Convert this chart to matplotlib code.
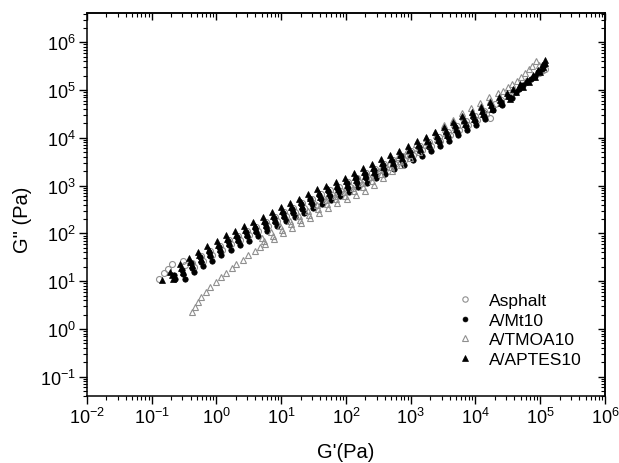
import numpy as np
import matplotlib
matplotlib.use("Agg")
import matplotlib.pyplot as plt
from matplotlib.ticker import LogLocator, NullFormatter

plt.rcParams['font.family'] = ['Liberation Sans', 'DejaVu Sans']
plt.rcParams['mathtext.fontset'] = 'custom'
plt.rcParams['mathtext.rm'] = 'Liberation Sans'

# ---- data: (log10 G', log10 G'') ----
asphalt_log = [
    (-0.89, 1.05), (-0.80, 1.17), (-0.75, 1.26), (-0.69, 1.35),
    (-0.52, 1.42), (-0.48, 1.34),
    (-0.37, 1.39), (-0.34, 1.30), (-0.23, 1.52), (-0.20, 1.43),
    (-0.09, 1.63), (-0.06, 1.54), (0.06, 1.74), (0.09, 1.65),
    (0.20, 1.86), (0.23, 1.77), (0.34, 1.95), (0.37, 1.86),
    (0.48, 2.05), (0.51, 1.96), (0.62, 2.14), (0.65, 2.05),
    (0.77, 2.24), (0.80, 2.15), (0.91, 2.35), (0.94, 2.26),
    (1.05, 2.45), (1.08, 2.36), (1.19, 2.54), (1.22, 2.45),
    (1.33, 2.63), (1.36, 2.54), (1.47, 2.73), (1.50, 2.64),
    (1.61, 2.82), (1.64, 2.73), (1.75, 2.90), (1.78, 2.81),
    (1.89, 2.98), (1.92, 2.89), (2.03, 3.07), (2.06, 2.98),
    (2.17, 3.17), (2.20, 3.08), (2.31, 3.26), (2.34, 3.17),
    (2.45, 3.35), (2.48, 3.26), (2.59, 3.45), (2.62, 3.36),
    (2.73, 3.54), (2.76, 3.45), (2.87, 3.63), (2.90, 3.54),
    (3.01, 3.73), (3.04, 3.64), (3.15, 3.83), (3.18, 3.74),
    (3.29, 3.92), (3.32, 3.83), (3.43, 4.02), (3.46, 3.93),
    (3.57, 4.13), (3.60, 4.05), (3.71, 4.24), (3.74, 4.16),
    (3.85, 4.35), (3.88, 4.27), (3.99, 4.45), (4.02, 4.38),
    (4.13, 4.56), (4.16, 4.49), (4.22, 4.41),
    (4.30, 4.71), (4.40, 4.80), (4.50, 4.90), (4.60, 4.99),
    (4.70, 5.08), (4.80, 5.18), (4.90, 5.28), (4.98, 5.36),
    (5.04, 5.42), (5.07, 5.45),
]

mt10_log = [
    (-0.66, 1.12), (-0.64, 1.04),
    (-0.53, 1.23), (-0.51, 1.14), (-0.49, 1.05),
    (-0.39, 1.37), (-0.37, 1.28), (-0.35, 1.19),
    (-0.25, 1.50), (-0.23, 1.41), (-0.21, 1.32),
    (-0.11, 1.61), (-0.09, 1.52), (-0.07, 1.43),
    (0.04, 1.72), (0.06, 1.63), (0.08, 1.54),
    (0.18, 1.84), (0.20, 1.75), (0.22, 1.66),
    (0.32, 1.93), (0.34, 1.84), (0.36, 1.75),
    (0.46, 2.03), (0.48, 1.94), (0.50, 1.85),
    (0.60, 2.12), (0.62, 2.03), (0.64, 1.94),
    (0.75, 2.22), (0.77, 2.13), (0.79, 2.04),
    (0.89, 2.33), (0.91, 2.24), (0.93, 2.15),
    (1.03, 2.43), (1.05, 2.34), (1.07, 2.25),
    (1.17, 2.52), (1.19, 2.43), (1.21, 2.34),
    (1.31, 2.61), (1.33, 2.52), (1.35, 2.43),
    (1.45, 2.71), (1.47, 2.62), (1.49, 2.53),
    (1.59, 2.80), (1.61, 2.71), (1.63, 2.62),
    (1.73, 2.88), (1.75, 2.79), (1.77, 2.70),
    (1.87, 2.96), (1.89, 2.87), (1.91, 2.78),
    (2.01, 3.05), (2.03, 2.96), (2.05, 2.87),
    (2.15, 3.15), (2.17, 3.06), (2.19, 2.97),
    (2.29, 3.24), (2.31, 3.15), (2.33, 3.06),
    (2.43, 3.33), (2.45, 3.24), (2.47, 3.15),
    (2.57, 3.43), (2.59, 3.34), (2.61, 3.25),
    (2.71, 3.52), (2.73, 3.43), (2.75, 3.34),
    (2.85, 3.61), (2.87, 3.52), (2.89, 3.43),
    (2.99, 3.71), (3.01, 3.62), (3.03, 3.53),
    (3.13, 3.81), (3.15, 3.72), (3.17, 3.63),
    (3.27, 3.90), (3.29, 3.81), (3.31, 3.72),
    (3.41, 4.00), (3.43, 3.91), (3.45, 3.82),
    (3.55, 4.11), (3.57, 4.02), (3.59, 3.93),
    (3.69, 4.22), (3.71, 4.13), (3.73, 4.05),
    (3.83, 4.33), (3.85, 4.24), (3.87, 4.16),
    (3.97, 4.43), (3.99, 4.35), (4.01, 4.27),
    (4.11, 4.54), (4.13, 4.46), (4.15, 4.39),
    (4.25, 4.65), (4.27, 4.58), (4.39, 4.76), (4.41, 4.69),
    (4.52, 4.86), (4.56, 4.84), (4.63, 4.97), (4.68, 5.03),
    (4.74, 5.10), (4.80, 5.16), (4.86, 5.23), (4.92, 5.30),
    (4.97, 5.37), (5.02, 5.45), (5.06, 5.52),
]

tmoa_log = [
    (-0.38, 0.35), (-0.33, 0.46), (-0.28, 0.56), (-0.23, 0.67),
    (-0.16, 0.77), (-0.09, 0.87), (-0.01, 0.98), (0.07, 1.08),
    (0.15, 1.17), (0.24, 1.27), (0.31, 1.36), (0.41, 1.45),
    (0.49, 1.55), (0.60, 1.64), (0.67, 1.71),
    (0.71, 1.91), (0.73, 1.84), (0.75, 1.77),
    (0.85, 2.02), (0.87, 1.95), (0.89, 1.88),
    (0.99, 2.15), (1.01, 2.08), (1.03, 2.01),
    (1.13, 2.26), (1.15, 2.19), (1.17, 2.12),
    (1.27, 2.37), (1.29, 2.29), (1.31, 2.22),
    (1.41, 2.47), (1.43, 2.39), (1.45, 2.32),
    (1.55, 2.59), (1.57, 2.51), (1.59, 2.43),
    (1.69, 2.70), (1.71, 2.62), (1.73, 2.54),
    (1.83, 2.79), (1.85, 2.71), (1.87, 2.63),
    (1.97, 2.87), (1.99, 2.79), (2.01, 2.71),
    (2.11, 2.96), (2.13, 2.88), (2.15, 2.80),
    (2.25, 3.05), (2.27, 2.97), (2.29, 2.89),
    (2.39, 3.18), (2.41, 3.10), (2.43, 3.02),
    (2.53, 3.32), (2.55, 3.24), (2.57, 3.16),
    (2.67, 3.46), (2.69, 3.38), (2.71, 3.30),
    (2.81, 3.60), (2.83, 3.52), (2.85, 3.44),
    (2.95, 3.73), (2.97, 3.65), (2.99, 3.57),
    (3.09, 3.87), (3.11, 3.79), (3.13, 3.71),
    (3.23, 4.00), (3.25, 3.92), (3.27, 3.84),
    (3.37, 4.13), (3.39, 4.05), (3.41, 3.97),
    (3.51, 4.26), (3.53, 4.18), (3.55, 4.10),
    (3.65, 4.38), (3.67, 4.30), (3.69, 4.22),
    (3.79, 4.51), (3.81, 4.43), (3.83, 4.35),
    (3.93, 4.63), (3.95, 4.55), (3.97, 4.47),
    (4.07, 4.74), (4.09, 4.66), (4.11, 4.58),
    (4.21, 4.86), (4.23, 4.78), (4.25, 4.70),
    (4.35, 4.93), (4.43, 4.99), (4.50, 5.06), (4.57, 5.12),
    (4.64, 5.19), (4.71, 5.27), (4.77, 5.35), (4.83, 5.45),
    (4.87, 5.51), (4.94, 5.60), (4.98, 5.52),
]

aptes_log = [
    (-0.84, 1.03),
    (-0.71, 1.19), (-0.69, 1.12), (-0.67, 1.05),
    (-0.56, 1.35), (-0.54, 1.27), (-0.52, 1.20),
    (-0.42, 1.49), (-0.40, 1.41), (-0.38, 1.33),
    (-0.28, 1.62), (-0.26, 1.54), (-0.24, 1.46),
    (-0.14, 1.73), (-0.12, 1.65), (-0.10, 1.57),
    (0.01, 1.84), (0.03, 1.76), (0.05, 1.68),
    (0.15, 1.96), (0.17, 1.88), (0.19, 1.80),
    (0.29, 2.05), (0.31, 1.97), (0.33, 1.89),
    (0.43, 2.15), (0.45, 2.07), (0.47, 1.99),
    (0.57, 2.24), (0.59, 2.16), (0.61, 2.08),
    (0.72, 2.34), (0.74, 2.26), (0.76, 2.18),
    (0.86, 2.45), (0.88, 2.37), (0.90, 2.29),
    (1.00, 2.55), (1.02, 2.47), (1.04, 2.39),
    (1.14, 2.64), (1.16, 2.56), (1.18, 2.48),
    (1.28, 2.73), (1.30, 2.65), (1.32, 2.57),
    (1.42, 2.83), (1.44, 2.75), (1.46, 2.67),
    (1.56, 2.92), (1.58, 2.84), (1.60, 2.76),
    (1.70, 3.00), (1.72, 2.92), (1.74, 2.84),
    (1.84, 3.08), (1.86, 3.00), (1.88, 2.92),
    (1.98, 3.17), (2.00, 3.09), (2.02, 3.01),
    (2.12, 3.27), (2.14, 3.19), (2.16, 3.11),
    (2.26, 3.36), (2.28, 3.28), (2.30, 3.20),
    (2.40, 3.45), (2.42, 3.37), (2.44, 3.29),
    (2.54, 3.55), (2.56, 3.47), (2.58, 3.39),
    (2.68, 3.64), (2.70, 3.56), (2.72, 3.48),
    (2.82, 3.73), (2.84, 3.65), (2.86, 3.57),
    (2.96, 3.83), (2.98, 3.75), (3.00, 3.67),
    (3.10, 3.93), (3.12, 3.85), (3.14, 3.77),
    (3.24, 4.02), (3.26, 3.94), (3.28, 3.86),
    (3.38, 4.12), (3.40, 4.04), (3.42, 3.96),
    (3.52, 4.23), (3.54, 4.15), (3.56, 4.07),
    (3.66, 4.34), (3.68, 4.26), (3.70, 4.18),
    (3.80, 4.45), (3.82, 4.37), (3.84, 4.29),
    (3.94, 4.55), (3.96, 4.47), (3.98, 4.39),
    (4.08, 4.65), (4.10, 4.57), (4.12, 4.50),
    (4.22, 4.76), (4.24, 4.68), (4.26, 4.61),
    (4.36, 4.86), (4.38, 4.79), (4.40, 4.72),
    (4.48, 4.94), (4.50, 4.87), (4.53, 4.82),
    (4.58, 5.02), (4.62, 4.97), (4.69, 5.12), (4.73, 5.07),
    (4.79, 5.22), (4.83, 5.17), (4.89, 5.32), (4.92, 5.27),
    (4.97, 5.43), (5.00, 5.38), (5.02, 5.52), (5.05, 5.48),
    (5.07, 5.62), (5.08, 5.56),
]

series_names = ['Asphalt', 'A/Mt10', 'A/TMOA10', 'A/APTES10']
x_ticks = [1e-2, 1e-1, 1e0, 1e1, 1e2, 1e3, 1e4, 1e5, 1e6]
y_ticks = [1e-1, 1e0, 1e1, 1e2, 1e3, 1e4, 1e5, 1e6]


def unlog(pairs):
    a = np.array(pairs)
    return 10 ** a[:, 0], 10 ** a[:, 1]


fig = plt.figure(figsize=(6.19, 4.64), dpi=100)
ax = fig.add_axes([0.1401, 0.145, 0.8373, 0.8242])
ax.set_xscale('log')
ax.set_yscale('log')

gray = '#8f8f8f'
styles = [
    dict(marker='o', ms=4.3, mfc='none', mec=gray, mew=0.8),
    dict(marker='o', ms=3.9, mfc='black', mec='black', mew=0.5),
    dict(marker='^', ms=4.8, mfc='none', mec=gray, mew=0.8),
    dict(marker='^', ms=5.0, mfc='black', mec='black', mew=0.5),
]
for data, name, st in zip([asphalt_log, mt10_log, tmoa_log, aptes_log], series_names, styles):
    gx, gy = unlog(data)
    ax.plot(gx, gy, ls='none', label=name, **st)

ax.set_xlim(1e-2, 1e6)
ax.set_ylim(0.04, 4.05e6)
ax.set_xticks(x_ticks)
ax.set_yticks(y_ticks)
ax.xaxis.set_minor_locator(LogLocator(base=10, subs=np.arange(2, 10), numticks=20))
ax.yaxis.set_minor_locator(LogLocator(base=10, subs=np.arange(2, 10), numticks=20))
ax.xaxis.set_minor_formatter(NullFormatter())
ax.yaxis.set_minor_formatter(NullFormatter())
ax.tick_params(which='major', direction='out', length=5.5, width=1.0, labelsize=13, pad=2.5)
ax.tick_params(which='minor', direction='out', length=3.2, width=0.8)
for sp in ax.spines.values():
    sp.set_linewidth(1.1)

# mirrored ticks on top and right, pointing inward
secx = ax.secondary_xaxis('top')
secx.set_xticks(x_ticks)
secx.xaxis.set_minor_locator(LogLocator(base=10, subs=np.arange(2, 10), numticks=20))
secx.tick_params(which='major', direction='in', length=5, width=1.0, labeltop=False)
secx.tick_params(which='minor', direction='in', length=3, width=0.8)
secx.xaxis.set_major_formatter(NullFormatter())
secx.xaxis.set_minor_formatter(NullFormatter())
secy = ax.secondary_yaxis('right')
secy.set_yticks(y_ticks)
secy.yaxis.set_minor_locator(LogLocator(base=10, subs=np.arange(2, 10), numticks=20))
secy.tick_params(which='major', direction='in', length=5, width=1.0, labelright=False)
secy.tick_params(which='minor', direction='in', length=3, width=0.8)
secy.yaxis.set_major_formatter(NullFormatter())
secy.yaxis.set_minor_formatter(NullFormatter())
for s in (secx, secy):
    for sp in s.spines.values():
        sp.set_linewidth(1.1)

ax.set_xlabel("G'(Pa)", fontsize=14.5)
ax.set_ylabel('G" (Pa)', fontsize=14.5)
ax.xaxis.set_label_coords(0.5, -0.122)
ax.yaxis.set_label_coords(-0.106, 0.462)

ax.legend(loc='upper left', bbox_to_anchor=(0.714, 0.268), frameon=False,
          fontsize=12.5, handlelength=1.0, handletextpad=0.85, labelspacing=0.25,
          borderpad=0, borderaxespad=0, markerscale=0.9)

fig.savefig('out.png', dpi=100)
